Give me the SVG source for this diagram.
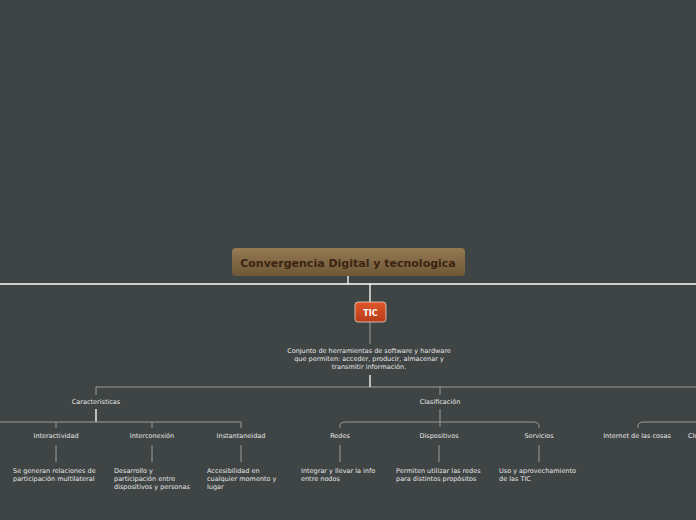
<svg xmlns="http://www.w3.org/2000/svg" width="696" height="520" viewBox="0 0 696 520">
<defs>
<linearGradient id="g" x1="0" y1="0" x2="0" y2="1"><stop offset="0" stop-color="#957a52"/><stop offset="1" stop-color="#6e5736"/></linearGradient>
<linearGradient id="r" x1="0" y1="0" x2="0" y2="1"><stop offset="0" stop-color="#e0572a"/><stop offset="1" stop-color="#b83c18"/></linearGradient>
</defs>
<style>
text{font-family:"DejaVu Sans",Verdana,sans-serif;font-size:6.5px;fill:#e6e6e6}
.c{text-anchor:middle}
.l{stroke:#9a9e9d;stroke-width:1;fill:none}
.w{stroke:#ffffff;stroke-width:1.3;fill:none}
</style>
<rect width="696" height="520" fill="#3f4444"/>
<g id="connectors">
<path class="w" d="M0 284H696M348 276V284M370 284V302"/>
<path class="l" d="M370 322V344M96 395V387H696M440 395V387"/>
<path class="w" d="M370 375V387" stroke-width="1.6"/>
<path class="w" d="M96 409V422" stroke-width="1.6"/>
<path class="l" d="M0 422H241M56 422V428M152 422V428M241 422V428"/>
<path class="l" d="M440 409V427M340 428V426Q340 422 346 422H533Q539 422 539 426V428"/>
<path class="l" d="M638 428V426Q638 422 644 422H696"/>
<path class="l" d="M56 445V462M152 445V462M241 445V462M340 445V462M439 445V462M539 445V462"/>
</g>
<g id="root"><rect x="232" y="248" width="233" height="28" rx="4" fill="url(#g)"/>
<text x="348" y="267" class="c" style="font-size:11px;font-weight:bold;fill:#3a2412">Convergencia Digital y tecnologica</text></g>
<g id="tic"><rect x="355" y="302" width="31" height="20" rx="3" fill="url(#r)" stroke="#e8d8d0" stroke-width="0.8"/>
<text x="370.5" y="316" class="c" style="font-size:8px;font-weight:bold;fill:#fff">TIC</text></g>
<g id="desc"><text class="c" x="369" y="353">Conjunto de herramientas de software y hardware</text><text class="c" x="369" y="361">que permiten: acceder, producir, almacenar y</text><text class="c" x="369" y="369">transmitir información.</text></g>
<g id="caracteristicas"><text class="c" x="96" y="404">Caracteristicas</text></g>
<g id="clasificacion"><text class="c" x="440" y="404">Clasificación</text></g>
<g id="interactividad"><text class="c" x="56" y="438">Interactividad</text><text x="13" y="473">Se generan relaciones de</text><text x="13" y="481">participación multilateral</text></g>
<g id="interconexion"><text class="c" x="152" y="438">Interconexión</text><text x="114" y="473">Desarrollo y</text><text x="114" y="481">participación entre</text><text x="114" y="489">dispositivos y personas</text></g>
<g id="instantaneidad"><text class="c" x="241" y="438">Instantaneidad</text><text x="207" y="473">Accesibilidad en</text><text x="207" y="481">cualquier momento y</text><text x="207" y="489">lugar</text></g>
<g id="redes"><text class="c" x="340" y="438">Redes</text><text x="301" y="473">Integrar y llevar la info</text><text x="301" y="481">entre nodos</text></g>
<g id="dispositivos"><text class="c" x="439" y="438">Dispositivos</text><text x="396" y="473">Permiten utilizar las redes</text><text x="396" y="481">para distintos propósitos</text></g>
<g id="servicios"><text class="c" x="539" y="438">Servicios</text><text x="499" y="473">Uso y aprovechamiento</text><text x="499" y="481">de las TIC</text></g>
<g id="iot"><text class="c" x="637" y="438">Internet de las cosas</text></g>
<g id="cloud"><text x="688" y="438">Cloud</text></g>
</svg>
